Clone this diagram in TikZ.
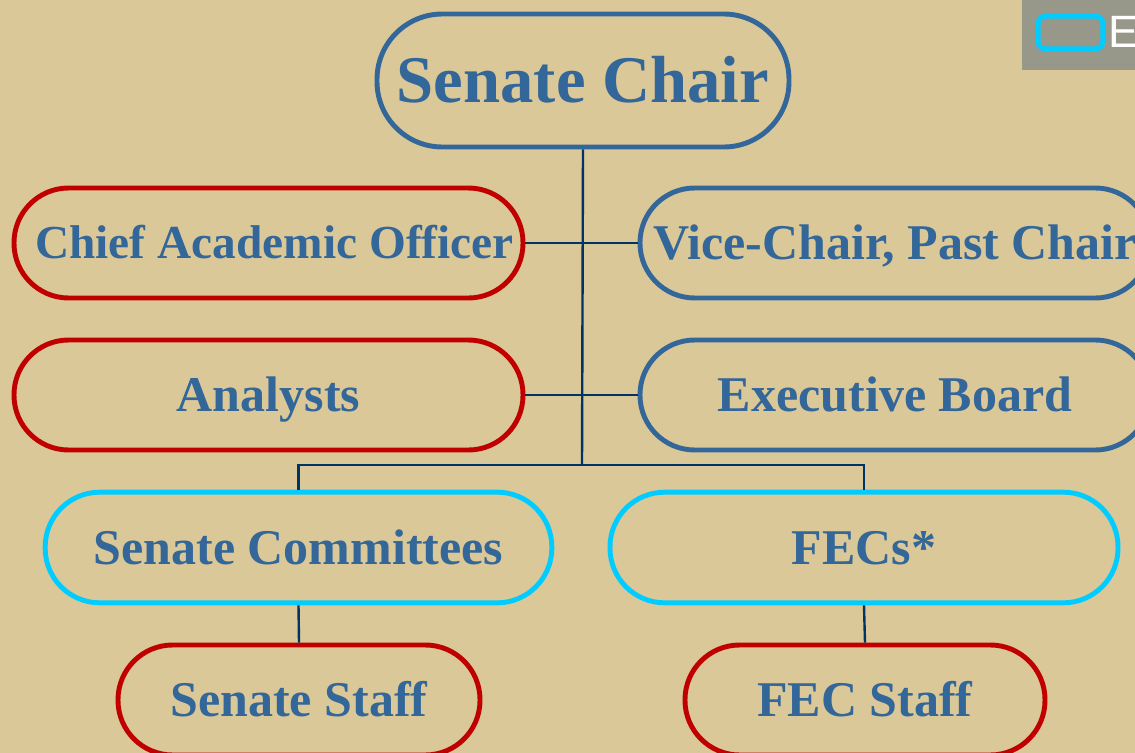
\documentclass[tikz,border=0pt]{standalone}
\usepackage{fontspec}
\setmainfont{Liberation Serif}
\newfontfamily\sansfam{Liberation Sans}
\definecolor{bgtan}{HTML}{DBC898}
\definecolor{boxblue}{HTML}{336699}
\definecolor{boxred}{HTML}{C00000}
\definecolor{boxcyan}{HTML}{00CCFF}
\definecolor{linknavy}{HTML}{003366}
\definecolor{logogray}{HTML}{97978A}
\tikzset{
  pill/.style={draw, line width=3.7pt, rounded corners=41pt, minimum height=82.5pt,
    inner sep=0pt, text height=24.8pt, text depth=0pt, text=boxblue,
    font=\bfseries\fontsize{37.5}{40}\selectfont},
  bluepill/.style={pill, draw=boxblue},
  redpill/.style={pill, draw=boxred},
  cyanpill/.style={pill, draw=boxcyan},
  link/.style={draw=linknavy, line width=1.8pt}
}
\begin{document}
\begin{tikzpicture}[x=0.75pt,y=-0.75pt]
\useasboundingbox (0,0) rectangle (1135,753);
\clip (0,0) rectangle (1135,753);
\fill[bgtan] (0,0) rectangle (1135,753);
% logo corner
\fill[logogray] (1022,0) rectangle (1140,70);
\draw[boxcyan, line width=3.8pt, rounded corners=6pt] (1038,16) rectangle (1103,49);
\node[anchor=base west, inner sep=0pt, text=white, font=\sansfam\fontsize{34}{36}\selectfont] (logoE) at (1108,47) {E};
% page number fragment
\draw[linknavy, line width=2.6pt] (1053,762) arc[start angle=180, end angle=0, x radius=11, y radius=14];
% nodes
\node[bluepill, minimum width=309pt, minimum height=99.75pt, rounded corners=49pt,
  text height=33pt, font=\bfseries\fontsize{50}{54}\selectfont] (chair) at (583,80.5) {Senate Chair};
\node[redpill, minimum width=381.75pt, text height=23.4pt, font=\bfseries\fontsize{35.5}{38}\selectfont] (cao) at (268.5,243) {\hspace*{9pt}Chief Academic Officer};
\node[bluepill, minimum width=382.5pt] (vice) at (895,243) {Vice-Chair, Past Chair};
\node[redpill, minimum width=381.75pt] (ana) at (268.5,395) {Analysts};
\node[bluepill, minimum width=382.5pt] (exec) at (895,395) {Executive Board};
\node[cyanpill, minimum width=380pt, minimum height=83pt] (scom) at (298.5,547.5) {Senate Committees};
\node[cyanpill, minimum width=381pt, minimum height=83pt] (fecs) at (864,547.5) {FECs*};
\node[redpill, minimum width=271.5pt] (sstaff) at (299,700) {Senate Staff};
\node[redpill, minimum width=270pt] (fstaff) at (865,700) {FEC Staff};
% connectors
\coordinate (fork) at (582,465);
\draw[link] (chair.south) -- (fork);
\draw[link] (cao.east) -- (vice.west);
\draw[link] (ana.east) -- (exec.west);
\draw[link] (scom.north) |- (fork) -| (fecs.north);
\draw[link] (scom.south) -- (sstaff.north);
\draw[link] (fecs.south) -- (fstaff.north);
\end{tikzpicture}
\end{document}
